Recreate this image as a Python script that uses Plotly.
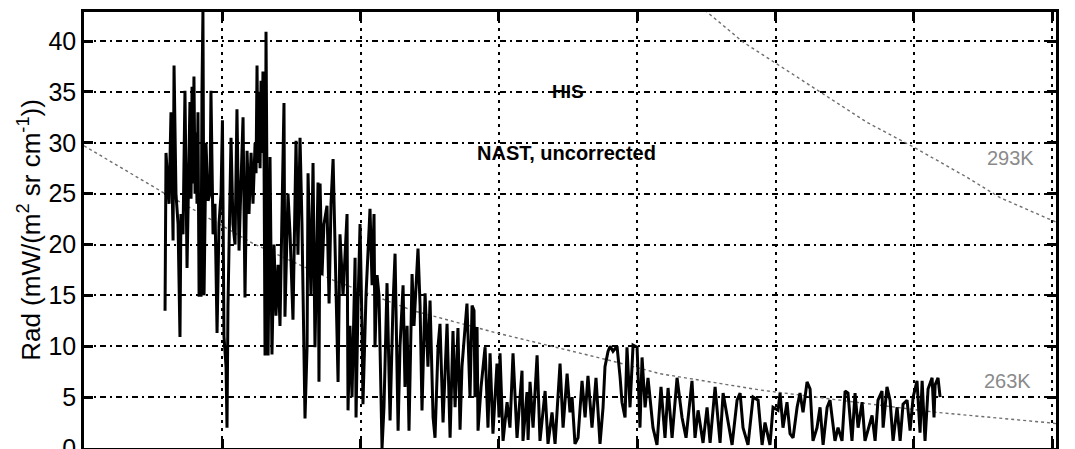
import plotly.graph_objects as go

# Brightness spectrum, wavenumber (cm^-1) vs radiance (mW/(m^2 sr cm^-1))
spec_wn = [
    1258.6, 1259.3, 1261.5, 1262.9, 1264.4, 1265.1, 1266.5, 1268.0, 1269.4, 1270.1,
    1271.6, 1273.0, 1274.5, 1275.9, 1276.6, 1277.4, 1278.1, 1278.8, 1279.5, 1280.3,
    1281.0, 1281.7, 1282.4, 1283.2, 1284.6,
    1285.3, 1286.0, 1286.8, 1288.2, 1289.7, 1291.1, 1291.8, 1293.3, 1294.7, 1296.2,
    1297.6, 1299.1, 1300.1, 1301.2, 1302.7, 1303.4, 1304.1, 1305.6, 1306.3, 1307.7,
    1309.2, 1310.6, 1312.1, 1313.5, 1315.0, 1316.4, 1317.9, 1319.3, 1320.8, 1322.2,
    1323.7, 1324.4, 1325.1, 1325.8, 1326.5, 1327.3, 1328.0, 1328.7, 1329.4, 1330.2,
    1330.9, 1331.6, 1333.1, 1334.5,
    1335.9, 1337.4, 1338.8, 1340.3, 1341.7, 1344.6, 1345.3, 1347.5, 1349.0, 1351.1,
    1353.3, 1354.7, 1356.2, 1357.6, 1359.8, 1361.3, 1362.0, 1364.1, 1365.6, 1367.0,
    1369.2, 1369.9, 1370.7, 1372.1, 1373.5, 1375.7, 1377.2, 1378.6, 1380.1, 1381.5,
    1383.7, 1385.1, 1387.3, 1390.2, 1390.9, 1392.3, 1393.8, 1396.0, 1396.7, 1398.1,
    1399.6, 1401.0, 1401.7, 1403.9, 1406.8, 1408.3, 1409.7, 1410.4, 1411.9, 1413.3,
    1415.5, 1416.9, 1419.1, 1421.3, 1423.4, 1424.9, 1427.1, 1428.5, 1430.7, 1432.1,
    1433.6, 1435.0, 1437.2, 1438.6, 1441.5, 1443.0, 1444.4, 1446.6, 1448.7, 1450.2,
    1452.4, 1453.8, 1456.0, 1457.4, 1459.6, 1462.5, 1464.7, 1466.8, 1468.3, 1470.4,
    1471.9, 1473.3, 1475.5, 1476.9, 1479.1, 1480.6, 1482.0, 1482.7, 1484.2, 1484.9,
    1487.1, 1490.0, 1492.1, 1493.6, 1495.7, 1497.9, 1498.6, 1500.1, 1500.8, 1503.0,
    1505.9, 1508.0, 1510.2, 1513.1, 1515.3, 1516.7, 1517.4, 1520.3, 1521.1, 1522.5,
    1524.7, 1527.6, 1529.7, 1533.4, 1535.5, 1538.4, 1540.6, 1544.2, 1546.4, 1549.3,
    1551.4, 1552.9, 1555.0, 1557.2, 1560.1, 1562.3, 1564.4, 1567.3, 1570.2, 1573.1,
    1575.3, 1576.7, 1578.9, 1580.4, 1582.5, 1585.4, 1587.6, 1589.0, 1591.2, 1592.6,
    1594.8, 1597.0, 1599.9, 1602.0, 1603.5, 1605.7, 1607.8, 1609.3, 1611.4, 1614.3,
    1617.2, 1620.1, 1622.3, 1625.2, 1628.8, 1632.4, 1635.3, 1639.6, 1641.8, 1644.0,
    1647.6, 1650.5, 1652.7, 1656.3, 1659.9, 1662.1, 1665.0, 1668.6, 1672.2, 1674.4,
    1676.5, 1680.1, 1683.8, 1687.4, 1690.3, 1692.4, 1696.0, 1698.2, 1701.8, 1703.3,
    1705.4, 1708.3, 1710.5, 1712.7, 1715.6, 1717.7, 1719.9, 1722.8, 1725.0, 1727.1,
    1730.0, 1732.2, 1734.4, 1737.3, 1739.4, 1743.0, 1745.2, 1748.1, 1750.3, 1752.4,
    1755.3, 1757.5, 1759.7, 1762.6, 1764.7, 1766.9, 1769.8, 1772.0, 1774.1, 1777.0,
    1777.8, 1780.6, 1782.8, 1785.0, 1787.9, 1790.1, 1792.2, 1795.1, 1797.3, 1799.5,
    1802.3, 1804.5, 1806.0, 1808.1, 1810.3, 1813.2, 1814.6, 1815.4, 1817.5, 1819.0,
]
spec_rad = [
    13.5, 29.0, 24.0, 33.0, 20.4, 37.6, 25.0, 22.0, 10.9, 23.0,
    21.0, 35.1, 17.7, 28.0, 34.0, 24.5, 35.5, 26.0, 36.5, 25.0,
    31.0, 24.0, 33.0, 15.0, 15.0,
    35.0, 42.9, 15.0, 30.0, 24.3, 25.0, 35.1, 21.0, 24.0, 11.3,
    22.0, 25.0, 32.2, 11.0, 8.0, 2.0, 14.0, 25.0, 30.5, 22.0,
    20.0, 33.3, 19.4, 26.0, 32.5, 14.8, 29.2, 23.0, 29.0, 24.0,
    30.0, 27.0, 37.6, 28.0, 35.0, 27.5, 36.1, 29.0, 37.0, 28.0,
    9.1, 40.9, 9.1, 28.6,
    9.2, 20.0, 13.0, 18.0, 12.0, 33.9, 12.9, 25.0, 21.0, 12.6,
    30.2, 19.0, 30.5, 22.0, 2.9, 10.0, 27.0, 15.0, 28.0, 9.9,
    26.1, 6.5, 26.0, 17.0, 22.0, 23.8, 14.2, 24.0, 28.4, 20.0,
    6.5, 21.0, 15.0, 23.0, 3.7, 12.0, 5.0, 18.7, 3.0, 14.0,
    22.0, 12.0, 4.3, 15.0, 23.5, 16.0, 23.0, 9.9, 17.0, 15.0,
    0.0, 4.0, 16.2, 2.7, 14.0, 19.1, 1.7, 10.0, 16.0, 6.0,
    12.0, 1.7, 17.1, 12.0, 19.6, 14.0, 3.7, 15.2, 8.0, 14.5,
    3.0, 1.0, 10.0, 12.2, 2.5, 12.2, 1.0, 11.5, 4.0, 11.8,
    1.8, 8.0, 12.0, 14.2, 5.0, 14.0, 13.5, 5.0, 11.9, 1.7,
    6.0, 9.9, 2.0, 9.3, 1.4, 7.0, 8.3, 3.0, 9.3, 0.7,
    4.5, 2.0, 9.3, 1.0, 5.0, 7.6, 0.7, 5.5, 0.8, 6.5,
    2.0, 9.1, 0.7, 5.6, 0.4, 3.5, 0.4, 8.3, 2.0, 7.3,
    3.5, 5.0, 0.4, 1.0, 6.6, 3.0, 7.1, 2.0, 6.9, 0.4,
    4.0, 8.0, 9.5, 10.0, 9.5, 10.0, 7.0, 4.5, 3.0, 9.9,
    4.0, 10.1, 9.9, 2.0, 8.9, 4.0, 6.9, 4.5, 2.0, 0.3,
    6.0, 1.0, 5.9, 1.0, 6.9, 3.0, 1.0, 6.6, 1.0, 3.7,
    0.5, 4.0, 0.5, 6.0, 0.5, 5.4, 3.0, 0.3, 4.7, 5.4,
    2.0, 0.3, 5.0, 4.7, 0.3, 2.5, 0.3, 4.0, 3.7, 5.4,
    2.0, 4.5, 1.4, 1.0, 4.0, 5.4, 3.5, 6.5, 5.8, 0.7,
    2.0, 4.0, 0.3, 4.0, 4.7, 0.7, 2.0, 0.7, 5.6, 5.4,
    0.7, 5.4, 2.0, 4.5, 0.7, 1.7, 3.2, 0.7, 4.7, 5.6,
    2.0, 6.0, 4.7, 0.7, 4.0, 0.7, 4.3, 4.7, 1.7, 5.0,
    6.6, 1.5, 6.6, 0.7, 5.8, 6.9, 3.0, 6.2, 6.9, 5.0,
]

# Blackbody reference curves
bb263_wn = [1200.0, 1258.6, 1300.5, 1322.2, 1341.7, 1380.1, 1409.0, 1437.9,
            1462.5, 1484.2, 1498.6, 1544.2, 1580.4, 1616.5, 1674.4, 1688.8,
            1746.7, 1816.8, 1896.3, 1902.8]
bb263_rad = [29.7, 25.0, 21.8, 20.1, 18.9, 16.5, 15.0, 13.5,
             12.6, 11.8, 11.3, 9.8, 8.6, 7.3, 6.0, 5.7,
             4.7, 3.5, 2.5, 2.4]
bb293_wn = [1645.4, 1650.5, 1676.5, 1700.4, 1734.4, 1766.2, 1799.5, 1838.5,
            1862.4, 1902.8]
bb293_rad = [43.4, 42.85, 39.9, 37.8, 34.8, 32.0, 29.6, 26.6, 24.6, 22.2]

y_ticks = [0, 5, 10, 15, 20, 25, 30, 35, 40]
x_ticks = [1200, 1300, 1400, 1500, 1600, 1700, 1800, 1900]

FONT = "Liberation Sans, Arial, sans-serif"

fig = go.Figure()
fig.add_trace(go.Scatter(x=bb263_wn, y=bb263_rad, mode="lines",
                         line=dict(color="#6e6e6e", width=1.4, dash="dot"),
                         hoverinfo="skip", showlegend=False))
fig.add_trace(go.Scatter(x=bb293_wn, y=bb293_rad, mode="lines",
                         line=dict(color="#6e6e6e", width=1.4, dash="dot"),
                         hoverinfo="skip", showlegend=False))
fig.add_trace(go.Scatter(x=spec_wn, y=spec_rad, mode="lines",
                         line=dict(color="black", width=3),
                         showlegend=False))

fig.add_annotation(x=1550, y=35, text="<b>HIS</b>", showarrow=False,
                   font=dict(family=FONT, size=19, color="black"))
fig.add_annotation(x=1549, y=29.0, text="<b>NAST, uncorrected</b>", showarrow=False,
                   font=dict(family=FONT, size=20, color="black"))
fig.add_annotation(x=1869.6, y=28.5, text="293K", showarrow=False,
                   font=dict(family=FONT, size=20, color="#8a8a8a"))
fig.add_annotation(x=1867.4, y=6.6, text="263K", showarrow=False,
                   font=dict(family=FONT, size=20, color="#8a8a8a"))

fig.update_layout(
    width=1075, height=449,
    margin=dict(l=84, r=19, t=12, b=1),
    paper_bgcolor="white", plot_bgcolor="white",
    font=dict(family=FONT, color="black"),
    xaxis=dict(range=[1200, 1902.8], tickvals=x_ticks, showticklabels=False,
               automargin=False,
               showgrid=True, gridcolor="black", gridwidth=2, griddash="3px,5px",
               showline=True, linecolor="black", linewidth=2.5, mirror="ticks",
               ticks="inside", ticklen=9, tickwidth=2.5, tickcolor="black",
               zeroline=False),
    yaxis=dict(range=[0, 42.85], tickvals=y_ticks, ticklabeloverflow="allow",
               automargin=False,
               tickfont=dict(family=FONT, size=25, color="black"),
               showgrid=True, gridcolor="black", gridwidth=2,
               griddash="6px,4px,2px,4px",
               showline=True, linecolor="black", linewidth=2.5, mirror="ticks",
               ticks="inside", ticklen=9, tickwidth=2.5, tickcolor="black",
               zeroline=False,
               title=dict(text="Rad (mW/(m<sup>2</sup> sr cm<sup>-1</sup>))",
                          font=dict(family=FONT, size=26, color="black"),
                          standoff=1)),
)

fig.write_html("out.html")
